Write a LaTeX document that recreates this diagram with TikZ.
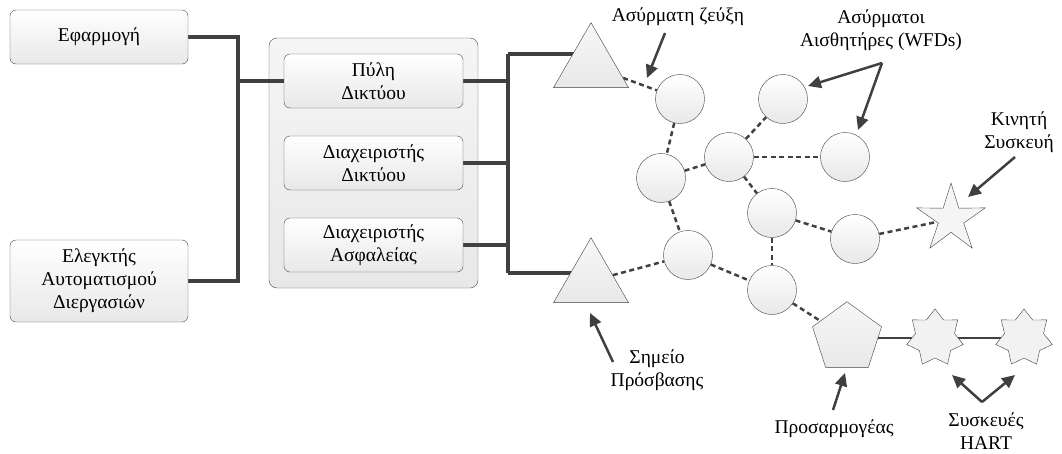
\documentclass[tikz,border=0pt]{standalone}
\usepackage{fontspec}
\setmainfont{Liberation Serif}
\usetikzlibrary{shapes.geometric,arrows.meta,backgrounds}
\begin{document}
\begin{tikzpicture}[x=1pt,y=-1pt,
    font=\fontsize{19.5}{23}\selectfont,
    box/.style={draw=black!70, rounded corners=6pt, top color=white, bottom color=black!9,
      minimum width=178pt, minimum height=54pt, align=center, inner sep=0pt},
    hostbox/.style={draw=black!70, rounded corners=8pt, top color=black!4, bottom color=black!9,
      minimum width=209pt, minimum height=250pt},
    mote/.style={circle, draw=black!75, top color=white, bottom color=black!9, minimum size=49pt, inner sep=0pt},
    access/.style={regular polygon, regular polygon sides=3, draw=black!75, top color=black!3, bottom color=black!9,
      minimum size=86.6pt, inner sep=0pt},
    adapter/.style={regular polygon, regular polygon sides=5, draw=black!75, top color=black!3, bottom color=black!9,
      minimum size=72.6pt, inner sep=0pt},
    mobile/.style={star, star points=5, star point ratio=2.7, draw=black!75, fill=black!4,
      minimum size=72pt, inner sep=0pt},
    hart/.style={star, star points=7, star point ratio=1.45, draw=black!75, fill=black!5,
      minimum size=58pt, inner sep=0pt},
    bus/.style={draw=black!75, line width=3.2pt},
    link/.style={draw=black!75, line width=2.5pt, dash pattern=on 5pt off 3.5pt},
    pointer/.style={draw=black!75, line width=2.5pt, -{Triangle[length=13pt,width=12pt]}}
  ]
  \useasboundingbox (0,0) rectangle (1062,453);

  % Plant side
  \node[box] (app) at (99,37) {Εφαρμογή};
  \node[box, minimum height=82pt] (plc) at (99,281) {Ελεγκτής\\Αυτοματισμού\\Διεργασιών};

  % Gateway group
  \begin{scope}[on background layer]
    \node[hostbox] (host) at (373.5,163) {};
  \end{scope}
  \node[box, minimum width=179pt] (gw) at (373.5,81) {Πύλη\\Δικτύου};
  \node[box, minimum width=179pt] (nm) at (373.5,163) {Διαχειριστής\\Δικτύου};
  \node[box, minimum width=179pt] (sm) at (373.5,245) {Διαχειριστής\\Ασφαλείας};

  % Wireless mesh
  \node[access] (ap1) at (591,66) {};
  \node[access] (ap2) at (591,281) {};
  \node[mote] (c1) at (680,99) {};
  \node[mote] (c2) at (783,99) {};
  \node[mote] (c3) at (729,157) {};
  \node[mote] (c4) at (845,157) {};
  \node[mote] (c5) at (661,178) {};
  \node[mote] (c6) at (772,213) {};
  \node[mote] (c7) at (855,239) {};
  \node[mote] (c8) at (688,255) {};
  \node[mote] (c9) at (772,290) {};
  \node[mobile] (mob) at (951,219) {};
  \node[adapter] (ad) at (847,338) {};
  \node[hart] (h1) at (935,338) {};
  \node[hart] (h2) at (1024,338) {};

  % Wiring
  \coordinate (ljoin) at (238,81);
  \coordinate (rtop) at (508,54);
  \coordinate (rbot) at (508,273);
  \begin{scope}[on background layer]
    \draw[bus] (app.east) -| (ljoin |- plc.east) -- (plc.east);
    \draw[bus] (ljoin) -- (gw.west);
    \draw[bus] (rtop) -- (rbot);
    \draw[bus] (gw.east) -- (gw.east -| rtop);
    \draw[bus] (nm.east) -- (nm.east -| rtop);
    \draw[bus] (sm.east) -- (sm.east -| rtop);
    \draw[bus] (rtop) -- (rtop -| ap1.center);
    \draw[bus] (rbot) -- (rbot -| ap2.center);
    \draw[bus, line width=2pt] (ad) -- (h1) -- (h2);
    \draw[link] (ap1) -- (c1);
    \draw[link] (c1) -- (c5);
    \draw[link] (c5) -- (c3);
    \draw[link] (c3) -- (c2);
    \draw[link] (c3) -- (c4);
    \draw[link] (c3) -- (c6);
    \draw[link] (c5) -- (c8);
    \draw[link] (ap2) -- (c8);
    \draw[link] (c6) -- (c7);
    \draw[link] (c7) -- (mob);
    \draw[link] (c6) -- (c9);
    \draw[link] (c8) -- (c9);
    \draw[link] (c9) -- (ad);
  \end{scope}

  % Labels
  \node[align=center] (lblLink) at (678,17) {Ασύρματη ζεύξη};
  \node[align=center] (lblWfd) at (881,30) {Ασύρματοι\\Αισθητήρες (WFDs)};
  \node[align=center] (lblMob) at (1019,132) {Κινητή\\Συσκευή};
  \node[align=center] (lblAp) at (657,370) {Σημείο\\Πρόσβασης};
  \node[align=center] (lblAd) at (834,429) {Προσαρμογέας};
  \node[align=center] (lblHart) at (986,431) {Συσκευές\\HART};

  \coordinate (tLink) at (665,33);  \coordinate (hLink) at (647,78);
  \coordinate (tWfd) at (882,63);   \coordinate (hWfdA) at (808,86);  \coordinate (hWfdB) at (858,130);
  \coordinate (tMob) at (1015,157); \coordinate (hMob) at (968,197);
  \coordinate (tAp) at (613,362);   \coordinate (hAp) at (590,313);
  \coordinate (tAd) at (833,410);   \coordinate (hAd) at (845,373);
  \coordinate (tHart) at (982,402); \coordinate (hHartA) at (952,375); \coordinate (hHartB) at (1015,375);

  \draw[pointer] (tLink) -- (hLink);
  \draw[pointer] (tWfd) -- (hWfdA);
  \draw[pointer] (tWfd) -- (hWfdB);
  \draw[pointer] (tMob) -- (hMob);
  \draw[pointer] (tAp) -- (hAp);
  \draw[pointer] (tAd) -- (hAd);
  \draw[pointer] (tHart) -- (hHartA);
  \draw[pointer] (tHart) -- (hHartB);
\end{tikzpicture}
\end{document}
